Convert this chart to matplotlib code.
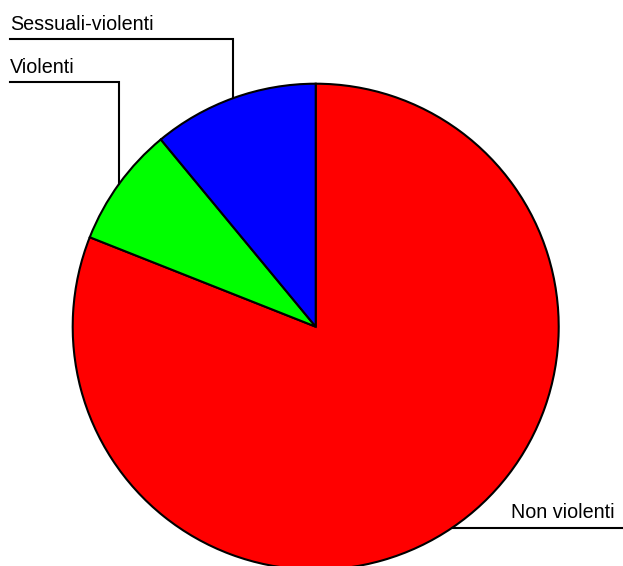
import numpy as np
import matplotlib
matplotlib.use("Agg")
import matplotlib.pyplot as plt

plt.rcParams['font.family'] = ['Liberation Sans', 'DejaVu Sans']

# Tipologia dei reati (percentuali)
labels = ["Non violenti", "Violenti", "Sessuali-violenti"]
values = [81, 8, 11]
colors = ["#ff0000", "#00ff00", "#0000ff"]

W, H = 623, 566
fig = plt.figure(figsize=(W / 100, H / 100), dpi=100)
ax = fig.add_axes([0, 0, 1, 1])
ax.set_xlim(0, W)
ax.set_ylim(0, H)
ax.axis('off')

cx, cy, r = 315.7, H - 326.7, 243
wedges, _ = ax.pie(values, colors=colors, startangle=90, counterclock=False,
                   center=(cx, cy), radius=r, frame=True,
                   wedgeprops=dict(edgecolor="black", linewidth=1.5))
ax.set_xlim(0, W)
ax.set_ylim(0, H)
ax.axis('off')

# altezza (in px dall'alto) della linea orizzontale di ogni etichetta
line_y = {"Violenti": 81.7, "Sessuali-violenti": 39.3}

for w, lab in zip(wedges, labels):
    mid = np.deg2rad((w.theta1 + w.theta2) / 2)
    ex = cx + r * np.cos(mid)
    ey = cy + r * np.sin(mid)
    if lab in line_y:
        ly = H - line_y[lab]
        ax.plot([ex, ex, 9.5], [ey, ly, ly], color="black", lw=1.5,
                solid_joinstyle="miter")
        ax.text(10, ly + 9, lab, fontsize=14.2, ha="left", va="baseline")
    else:
        ax.plot([ex, 622], [ey, ey], color="black", lw=1.5)
        ax.text(615, ey + 10, lab, fontsize=14.2, ha="right", va="baseline")

fig.savefig("out.png", dpi=100)
